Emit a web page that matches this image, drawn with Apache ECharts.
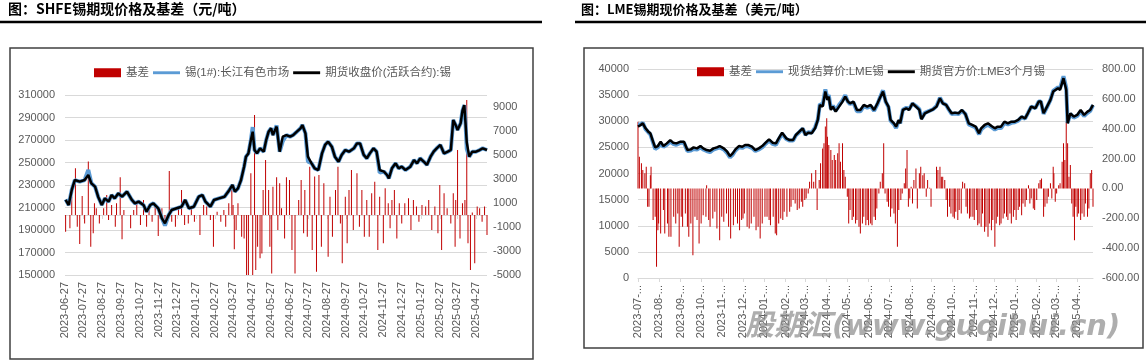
<!DOCTYPE html>
<html><head><meta charset="utf-8">
<script src="https://cdn.jsdelivr.net/npm/echarts@6/dist/echarts.min.js"></script>
<style>html,body{margin:0;padding:0;background:#fff}#c{width:1146px;height:364px}</style>
</head><body><div id="c"></div><script>
// ---------------- SHFE (left chart) ----------------
const shfeLineDates = ['2023-06-28','2023-07-03','2023-07-08','2023-07-13','2023-07-21','2023-07-29','2023-08-04','2023-08-09','2023-08-15','2023-08-20',
'2023-08-26','2023-08-31','2023-09-06','2023-09-11','2023-09-16','2023-09-22','2023-09-28','2023-10-06','2023-10-14','2023-10-19',
'2023-10-25','2023-11-02','2023-11-07','2023-11-13','2023-11-18','2023-11-26','2023-12-02','2023-12-07','2023-12-13','2023-12-18',
'2023-12-26','2024-01-03','2024-01-09','2024-01-15','2024-01-23','2024-01-31','2024-02-06','2024-02-11','2024-02-19','2024-02-25',
'2024-03-04','2024-03-13','2024-03-21','2024-03-26','2024-03-30','2024-04-04','2024-04-09','2024-04-14','2024-04-17','2024-04-21',
'2024-04-25','2024-04-28','2024-05-01','2024-05-05','2024-05-10','2024-05-16','2024-05-20','2024-05-24','2024-05-28','2024-05-31',
'2024-06-06','2024-06-11','2024-06-16','2024-06-22','2024-06-28','2024-07-03','2024-07-09','2024-07-15','2024-07-18','2024-07-23',
'2024-07-27','2024-08-02','2024-08-07','2024-08-13','2024-08-19','2024-08-24','2024-08-29','2024-09-04','2024-09-09','2024-09-15',
'2024-09-20','2024-09-26','2024-10-02','2024-10-10','2024-10-15','2024-10-20','2024-10-26','2024-10-31','2024-11-05','2024-11-11',
'2024-11-16','2024-11-21','2024-11-28','2024-12-03','2024-12-06','2024-12-11','2024-12-17','2024-12-22','2024-12-27','2025-01-02',
'2025-01-10','2025-01-16','2025-01-21','2025-01-26','2025-02-01','2025-02-06','2025-02-12','2025-02-17','2025-02-22','2025-02-28',
'2025-03-06','2025-03-12','2025-03-17','2025-03-21','2025-03-26','2025-03-28','2025-04-02','2025-04-05','2025-04-08','2025-04-10',
'2025-04-12','2025-04-16','2025-04-21','2025-04-27','2025-05-03','2025-05-08','2025-05-15'];
const shfeFutures = [216700,212200,225600,234400,233000,234400,238900,231500,228500,219600,
212200,218100,215200,221100,218100,222600,219600,224100,216700,213700,
215200,212200,206300,212200,213700,209300,200400,195900,203300,207800,
209300,210700,216700,209300,210700,219600,221100,215200,210700,216700,
218100,219600,225600,230000,224100,227000,234400,246300,255200,258100,
270000,277400,261100,258100,262600,259600,270000,277400,280400,274400,
281900,259600,273000,274400,273000,274400,277400,280400,283300,275900,
255200,249300,244800,243300,258100,265600,268500,264100,255200,250700,
256700,261100,259600,262600,267000,267000,256700,253700,258100,262600,
259600,243300,241900,238900,235900,244800,249300,244800,246300,243300,
246300,252200,249300,253700,250700,247800,255200,259600,262600,265600,
258100,259600,261100,287800,281900,278900,284800,296000,301000,285000,
268000,255200,259600,259600,261100,262600,261100];
const shfeSpot = [217200,212200,225600,234400,233000,234400,243300,231500,228500,219600,
212200,218100,215200,221100,218100,222600,219600,224100,216700,213700,
215200,212200,206300,212200,213700,209300,200400,194000,203300,207800,
209300,210700,216700,209300,210700,219600,221100,215200,210700,216700,
218100,219600,225600,230000,224100,227000,234400,246300,255200,258100,
270000,281500,261100,258100,262600,259600,270000,277400,280400,274400,
283000,259600,269000,274400,273000,274400,277400,280400,283300,275900,
251000,249300,244800,243300,258100,265600,268500,264100,255200,250700,
256700,261100,259600,262600,267000,267000,256700,253700,258100,262600,
259600,241000,241900,238900,235900,244800,249300,244800,246300,243300,
246300,252200,249300,253700,250700,247800,255200,259600,262600,265600,
258100,259600,261100,287800,281900,278900,284800,296000,301000,285000,
262000,255200,259600,259600,261100,262600,261100];
const shfeBasisDates = ['2023-06-28','2023-07-05','2023-07-08','2023-07-14','2023-07-17','2023-07-21','2023-07-25','2023-07-29','2023-08-04','2023-08-08',
'2023-08-12','2023-08-14','2023-08-17','2023-08-22','2023-08-29','2023-09-03','2023-09-06','2023-09-11','2023-09-17','2023-09-19',
'2023-09-25','2023-09-28','2023-10-01','2023-10-12','2023-10-17','2023-10-22','2023-10-28','2023-11-02','2023-11-07','2023-11-11',
'2023-11-16','2023-11-21','2023-11-26','2023-12-02','2023-12-07','2023-12-14','2023-12-18','2023-12-24','2023-12-29','2024-01-03',
'2024-01-08','2024-01-14','2024-01-19','2024-01-24','2024-02-02','2024-02-08','2024-02-13','2024-02-19','2024-02-24','2024-03-01',
'2024-03-07','2024-03-12','2024-03-15','2024-03-20','2024-03-25','2024-03-27','2024-03-29','2024-04-01','2024-04-04','2024-04-10',
'2024-04-14','2024-04-18','2024-04-21','2024-04-25','2024-04-28','2024-05-01','2024-05-03','2024-05-06','2024-05-10','2024-05-13',
'2024-05-15','2024-05-19','2024-05-24','2024-05-26','2024-05-29','2024-05-31','2024-06-06','2024-06-08','2024-06-11','2024-06-14',
'2024-06-19','2024-06-22','2024-06-27','2024-07-01','2024-07-06','2024-07-12','2024-07-16','2024-07-20','2024-07-22','2024-07-26',
'2024-07-30','2024-08-03','2024-08-07','2024-08-10','2024-08-14','2024-08-18','2024-08-22','2024-08-29','2024-09-01','2024-09-05',
'2024-09-10','2024-09-14','2024-09-18','2024-09-21','2024-09-26','2024-09-29','2024-10-02','2024-10-06','2024-10-09','2024-10-15',
'2024-10-19','2024-10-23','2024-10-27','2024-10-31','2024-11-04','2024-11-08','2024-11-13','2024-11-18','2024-11-21','2024-11-27',
'2024-11-30','2024-12-05','2024-12-08','2024-12-11','2024-12-15','2024-12-19','2024-12-23','2024-12-27','2025-01-01','2025-01-07',
'2025-01-11','2025-01-15','2025-01-20','2025-01-24','2025-01-29','2025-02-04','2025-02-09','2025-02-14','2025-02-19','2025-02-24',
'2025-02-27','2025-03-02','2025-03-06','2025-03-11','2025-03-17','2025-03-21','2025-03-24','2025-03-25','2025-03-28','2025-04-01',
'2025-04-05','2025-04-09','2025-04-12','2025-04-14','2025-04-18','2025-04-21','2025-04-25','2025-04-29','2025-05-03','2025-05-07',
'2025-05-11','2025-05-15'];
const shfeBasis = [-1390,-1110,1530,3890,-970,-2420,1590,-700,4450,-2640,
-1530,970,560,-700,560,1670,-420,830,-970,970,
3140,-2030,420,-1110,420,970,-830,1250,-970,700,
-560,830,-1750,560,-700,3670,-560,-970,560,2090,
-830,-700,700,-560,-1670,830,700,-420,-2640,280,
-560,420,-970,970,2360,830,-2860,-1250,970,-1810,
-1950,-5600,-5800,3480,-5400,8340,-4590,-2640,-3610,-3200,
2090,4590,2090,-2640,-4870,2360,3140,-1250,2640,560,
-1950,3140,2920,-2920,-4870,1250,2920,-1530,2090,-1810,
4030,-2920,3200,-4730,3340,-2640,2640,-3480,1530,-1810,
2090,4030,-700,-4030,1530,-2360,2090,3750,-1250,3480,
-970,2090,-1810,1250,-1810,1810,2780,-2920,1530,-2360,
2220,970,-1110,1250,2090,-1950,970,-700,970,1390,
-1250,1250,700,-560,830,700,1250,-1250,700,-1530,
2500,-2920,1810,560,-700,1810,-2640,1250,5420,-1950,
970,1250,9590,-2360,-4590,200,-4030,700,560,-560,
700,-1670];
const shfeLeftTicks = {min:150000, max:310000, step:20000};
const shfeRightTicks = {min:-5000, max:10000, step:2000};

// ---------------- LME (right chart) ----------------
const lmeLineDates = ['2023-07-21','2023-07-25','2023-07-28','2023-08-01','2023-08-05','2023-08-08','2023-08-12','2023-08-15','2023-08-19','2023-08-23',
'2023-08-27','2023-09-01','2023-09-06','2023-09-10','2023-09-15','2023-09-21','2023-09-26','2023-10-01','2023-10-06','2023-10-10',
'2023-10-15','2023-10-20','2023-10-24','2023-10-29','2023-11-03','2023-11-08','2023-11-13','2023-11-17','2023-11-23','2023-11-28',
'2023-12-02','2023-12-06','2023-12-10','2023-12-15','2023-12-20','2023-12-24','2023-12-29','2024-01-03','2024-01-08','2024-01-13',
'2024-01-18','2024-01-23','2024-01-28','2024-02-02','2024-02-07','2024-02-11','2024-02-16','2024-02-22','2024-02-27','2024-03-03',
'2024-03-07','2024-03-12','2024-03-17','2024-03-21','2024-03-25','2024-03-30','2024-04-04','2024-04-08','2024-04-11','2024-04-15',
'2024-04-19','2024-04-22','2024-04-24','2024-04-27','2024-04-30','2024-05-04','2024-05-09','2024-05-14','2024-05-18','2024-05-22',
'2024-05-25','2024-05-30','2024-06-04','2024-06-09','2024-06-14','2024-06-19','2024-06-24','2024-06-29','2024-07-04','2024-07-08',
'2024-07-12','2024-07-16','2024-07-20','2024-07-23','2024-07-28','2024-07-31','2024-08-04','2024-08-06','2024-08-10','2024-08-15',
'2024-08-19','2024-08-24','2024-08-29','2024-09-03','2024-09-06','2024-09-11','2024-09-16','2024-09-23','2024-09-28','2024-10-03',
'2024-10-07','2024-10-12','2024-10-16','2024-10-20','2024-10-25','2024-10-30','2024-11-04','2024-11-09','2024-11-14','2024-11-19',
'2024-11-24','2024-11-29','2024-12-02','2024-12-07','2024-12-12','2024-12-17','2024-12-22','2024-12-26','2024-12-31','2025-01-05',
'2025-01-10','2025-01-15','2025-01-20','2025-01-25','2025-01-30','2025-02-04','2025-02-08','2025-02-13','2025-02-19','2025-02-24',
'2025-02-27','2025-03-03','2025-03-08','2025-03-13','2025-03-17','2025-03-19','2025-03-24','2025-03-27','2025-04-01','2025-04-05',
'2025-04-07','2025-04-11','2025-04-16','2025-04-21','2025-04-26','2025-05-01','2025-05-06','2025-05-10','2025-05-14'];
const lmeFutures = [28965,29285,29604,28645,28006,27686,26088,25001,25256,26088,
25256,25768,26407,25896,25768,26088,26088,24489,24617,25001,
24809,25256,24809,24489,24361,24809,25001,25256,24809,24169,
23338,23850,24617,25256,25128,25448,25448,25128,24489,24809,
25256,25896,26535,25896,25768,26727,27814,26727,26407,26407,
27366,28006,28645,27366,27814,27686,28645,30244,33121,32801,
35679,34080,34719,32162,32801,31842,32801,33760,34719,33760,
33441,33760,32162,32162,33121,32801,33121,32162,33441,34592,
35679,33760,32801,30244,29604,28965,30244,29604,32162,32482,
32162,33441,32801,32162,30372,31522,31842,32290,32801,34400,
33441,33121,32290,31522,31650,31522,32162,31395,29604,29285,
28965,27686,28645,29285,29604,29093,28645,28965,28965,29924,
29604,29924,29924,30244,30883,30563,31522,32801,32482,33760,
33760,31522,32801,34080,35679,35359,36318,35998,38236,35998,
29604,31522,30883,31203,32162,31203,31842,32162,33121];
const lmeSpot = [29400,29400,29700,28500,27900,27500,25900,24700,25000,25800,
25100,25500,26100,25700,25500,25900,25900,24300,24400,24700,
24600,25000,24600,24300,24100,24600,24800,25000,24600,23900,
23100,23600,24400,25000,24900,25200,25200,24900,24300,24600,
25000,25700,26300,25700,25500,26500,27600,26600,26300,26300,
27300,27900,28600,27400,27900,27800,28800,30300,33300,33000,
36100,34400,35000,32400,33000,32000,33100,34000,35000,33700,
33300,33600,31900,31900,32900,32600,32900,32000,33300,34700,
35900,33700,32700,30100,29400,28700,30100,29600,32200,32600,
32300,33400,32900,32300,30500,31600,31900,32300,32900,34500,
33500,33100,32200,31400,31500,31400,32000,31400,29400,29100,
28800,27500,28400,29000,29300,28900,28400,28700,28700,29700,
29400,29700,29800,30100,30800,30500,31500,32800,32500,33800,
33800,31400,32700,34100,35800,35500,36500,36300,38600,36400,
29700,31400,30700,31000,31900,31000,31600,32000,33100];
const lmeBasisDates = ['2023-07-21','2023-07-23','2023-07-26','2023-07-28','2023-07-31','2023-08-02','2023-08-04','2023-08-06','2023-08-08','2023-08-09',
'2023-08-12','2023-08-15','2023-08-17','2023-08-19','2023-08-20','2023-08-23','2023-08-27','2023-08-29','2023-09-02','2023-09-04',
'2023-09-07','2023-09-11','2023-09-14','2023-09-17','2023-09-19','2023-09-22','2023-09-24','2023-09-28','2023-10-01','2023-10-03',
'2023-10-06','2023-10-09','2023-10-12','2023-10-15','2023-10-18','2023-10-21','2023-10-24','2023-10-28','2023-10-29','2023-11-01',
'2023-11-03','2023-11-07','2023-11-10','2023-11-13','2023-11-17','2023-11-20','2023-11-23','2023-11-27','2023-11-30','2023-12-03',
'2023-12-07','2023-12-10','2023-12-13','2023-12-16','2023-12-19','2023-12-21','2023-12-23','2023-12-27','2023-12-30','2024-01-02',
'2024-01-06','2024-01-09','2024-01-12','2024-01-15','2024-01-18','2024-01-22','2024-01-25','2024-01-28','2024-01-30','2024-02-03',
'2024-02-06','2024-02-08','2024-02-11','2024-02-14','2024-02-17','2024-02-19','2024-02-23','2024-02-27','2024-02-29','2024-03-03',
'2024-03-06','2024-03-09','2024-03-12','2024-03-15','2024-03-17','2024-03-20','2024-03-22','2024-03-25','2024-03-27','2024-03-30',
'2024-04-02','2024-04-05','2024-04-07','2024-04-10','2024-04-12','2024-04-15','2024-04-17','2024-04-19','2024-04-21','2024-04-22',
'2024-04-24','2024-04-27','2024-04-29','2024-05-02','2024-05-04','2024-05-07','2024-05-09','2024-05-11','2024-05-14','2024-05-16',
'2024-05-18','2024-05-21','2024-05-23','2024-05-25','2024-05-28','2024-05-30','2024-06-02','2024-06-04','2024-06-07','2024-06-09',
'2024-06-12','2024-06-14','2024-06-17','2024-06-19','2024-06-21','2024-06-24','2024-06-26','2024-06-29','2024-07-01','2024-07-03',
'2024-07-06','2024-07-08','2024-07-11','2024-07-13','2024-07-15','2024-07-18','2024-07-20','2024-07-23','2024-07-25','2024-07-28',
'2024-07-30','2024-08-02','2024-08-04','2024-08-07','2024-08-09','2024-08-12','2024-08-14','2024-08-16','2024-08-18','2024-08-20',
'2024-08-22','2024-08-24','2024-08-26','2024-08-29','2024-08-31','2024-09-03','2024-09-05','2024-09-08','2024-09-10','2024-09-13',
'2024-09-15','2024-09-18','2024-09-20','2024-09-28','2024-09-30','2024-10-03','2024-10-05','2024-10-07','2024-10-10','2024-10-12',
'2024-10-14','2024-10-17','2024-10-19','2024-10-22','2024-10-24','2024-10-26','2024-10-29','2024-10-31','2024-11-03','2024-11-05',
'2024-11-08','2024-11-10','2024-11-12','2024-11-15','2024-11-17','2024-11-20','2024-11-22','2024-11-25','2024-11-27','2024-11-29',
'2024-12-02','2024-12-04','2024-12-07','2024-12-09','2024-12-12','2024-12-14','2024-12-17','2024-12-19','2024-12-22','2024-12-24',
'2024-12-26','2024-12-29','2024-12-31','2025-01-03','2025-01-05','2025-01-08','2025-01-10','2025-01-13','2025-01-15','2025-01-18',
'2025-01-20','2025-01-22','2025-01-25','2025-01-27','2025-01-30','2025-02-01','2025-02-04','2025-02-06','2025-02-09','2025-02-11',
'2025-02-13','2025-02-16','2025-02-18','2025-02-21','2025-02-24','2025-02-26','2025-02-28','2025-03-03','2025-03-05','2025-03-08',
'2025-03-10','2025-03-13','2025-03-15','2025-03-17','2025-03-18','2025-03-20','2025-03-22','2025-03-25','2025-03-27','2025-03-30',
'2025-04-01','2025-04-03','2025-04-05','2025-04-07','2025-04-09','2025-04-11','2025-04-13','2025-04-15','2025-04-17','2025-04-19',
'2025-04-21','2025-04-23','2025-04-26','2025-04-28','2025-05-01','2025-05-03','2025-05-06','2025-05-08','2025-05-10','2025-05-12',
'2025-05-14'];
const lmeBasis = [447,212,168,123,101,145,-123,-123,89,145,
-212,-190,-525,-280,-235,-302,-145,-302,-235,-324,
-324,-190,-235,-168,-391,-190,-257,-168,-257,-324,
-235,-447,-190,-212,-369,-235,-179,-190,22,-212,
-257,-201,-157,-268,-347,-190,-224,-168,-257,-335,
-246,-190,-235,-280,-212,-201,-168,-257,-268,-235,
-190,-280,-257,-335,-235,-190,-190,-212,-246,-190,
-302,-313,-235,-201,-212,-157,-190,-157,-123,-78,
-101,-145,-134,-89,-123,-78,-67,-34,45,101,
45,123,-145,56,168,268,302,414,470,347,
291,257,190,224,190,235,302,179,302,123,
78,-56,-235,-145,-212,-190,-235,-212,-257,-302,
-235,-190,-246,-212,-246,-235,-246,-190,-212,-134,
-34,45,101,302,-34,-89,-123,-190,-134,-168,
-235,-391,-145,-78,-34,34,134,257,-123,-67,
11,-101,56,134,-134,101,145,89,101,-56,
56,5,-123,145,123,145,78,78,56,-78,
-190,-123,-168,-190,-201,-157,-212,-145,-168,45,
34,-123,-168,-201,-190,-190,-212,-145,-246,-235,
-257,-168,-291,-257,-324,-235,-280,-212,-391,-235,
-190,-246,-235,-201,-168,-190,-212,-168,-235,-190,
-145,-212,-145,-123,-179,-101,-123,-78,22,-101,
-67,-134,-145,-78,34,56,67,-190,-123,-101,
-56,34,-67,145,101,-89,-34,22,34,179,
302,190,447,302,78,157,-101,-190,-347,-123,
-190,-168,-212,-168,-190,-101,-190,-134,101,123,
-123];
const lmeLeftTicks = {min:0, max:40000, step:5000};
const lmeRightTicks = {min:-600, max:800, step:200};

// ---------------- helpers ----------------
function dayRange(a, b) {
  const p = s => Date.UTC(+s.slice(0,4), +s.slice(5,7)-1, +s.slice(8,10));
  const out = [];
  for (let t = p(a); t <= p(b); t += 86400000) out.push(new Date(t).toISOString().slice(0,10));
  return out;
}
const shfeAxisDays = dayRange('2023-06-27','2025-05-15');
const lmeAxisDays = dayRange('2023-07-21','2025-05-14');
const pairs = (d, v) => d.map((x, i) => [x, v[i]]);

const FONT = "'Liberation Sans','Noto Sans CJK SC',sans-serif";
const LABEL = '#595959', GRID = '#D9D9D9', RED = '#C00000', BLUE = '#5B9BD5', BLACK = '#000000';
const lineIcon = 'path://M0,0H28V3H0Z';

const chart = echarts.init(document.getElementById('c'), null, {renderer: 'canvas'});
const isShfeTick = (i, v) => v.slice(8) === '27';
const isLmeTick = (i, v) => v.slice(8) === '21';

function yAx(grid, t, pos, fmt, showGrid, margin, showMax) {
  return {
    type: 'value', gridIndex: grid, position: pos, min: t.min, max: t.max, interval: t.step,
    axisLine: {show: false}, axisTick: {show: false},
    axisLabel: {color: LABEL, fontSize: 11, fontFamily: FONT, margin: margin, formatter: fmt, showMaxLabel: showMax},
    splitLine: {show: showGrid, lineStyle: {color: GRID, width: 1}}
  };
}

const option = {
  animation: false,
  backgroundColor: '#fff',
  textStyle: {fontFamily: FONT},
  grid: [
    {left: 65, top: 95, width: 422, height: 180},
    {left: 638, top: 69, width: 455, height: 209}
  ],
  legend: [
    {left: 89, top: 62, itemWidth: 27, itemHeight: 9, itemGap: 4, selectedMode: false,
     textStyle: {color: LABEL, fontSize: 11.5, fontFamily: FONT},
     data: [{name: '基差', icon: 'rect'}, {name: '锡(1#):长江有色市场', icon: lineIcon}, {name: '期货收盘价(活跃合约):锡', icon: lineIcon}]},
    {left: 692, top: 61, itemWidth: 27, itemHeight: 9, itemGap: 4, selectedMode: false,
     textStyle: {color: LABEL, fontSize: 11.5, fontFamily: FONT},
     data: [{name: '基差', icon: 'rect'}, {name: '现货结算价:LME锡', icon: lineIcon}, {name: '期货官方价:LME3个月锡', icon: lineIcon}]}
  ],
  xAxis: [
    {type: 'category', gridIndex: 0, data: shfeAxisDays, boundaryGap: false,
     axisLine: {lineStyle: {color: GRID}},
     axisTick: {show: true, interval: isShfeTick, length: 4, lineStyle: {color: GRID}},
     axisLabel: {interval: isShfeTick, rotate: 90, color: LABEL, fontSize: 11, fontFamily: FONT, margin: 7},
     splitLine: {show: false}},
    {type: 'category', gridIndex: 1, data: lmeAxisDays, boundaryGap: false,
     axisLine: {lineStyle: {color: GRID}},
     axisTick: {show: true, interval: isLmeTick, length: 4, lineStyle: {color: GRID}},
     axisLabel: {interval: isLmeTick, rotate: 90, color: LABEL, fontSize: 11, fontFamily: FONT, margin: 7,
                 formatter: v => v.slice(0, 7) + '-...'},
     splitLine: {show: false}}
  ],
  yAxis: [
    yAx(0, shfeLeftTicks, 'left', v => String(v), true, 10, true),
    yAx(0, shfeRightTicks, 'right', v => String(v), false, 6, false),
    yAx(1, lmeLeftTicks, 'left', v => String(v), true, 9, true),
    yAx(1, lmeRightTicks, 'right', v => v.toFixed(2), false, 9, true)
  ],
  series: [
    {name: '基差', type: 'bar', xAxisIndex: 0, yAxisIndex: 1, barWidth: 1, itemStyle: {color: RED}, data: pairs(shfeBasisDates, shfeBasis)},
    {name: '锡(1#):长江有色市场', type: 'line', xAxisIndex: 0, yAxisIndex: 0, showSymbol: false, symbol: 'none',
     lineStyle: {color: BLUE, width: 4}, itemStyle: {color: BLUE}, data: pairs(shfeLineDates, shfeSpot)},
    {name: '期货收盘价(活跃合约):锡', type: 'line', xAxisIndex: 0, yAxisIndex: 0, showSymbol: false, symbol: 'none',
     lineStyle: {color: BLACK, width: 2.5}, itemStyle: {color: BLACK}, data: pairs(shfeLineDates, shfeFutures)},
    {name: '基差', type: 'bar', xAxisIndex: 1, yAxisIndex: 3, barWidth: 1, itemStyle: {color: RED}, data: pairs(lmeBasisDates, lmeBasis)},
    {name: '现货结算价:LME锡', type: 'line', xAxisIndex: 1, yAxisIndex: 2, showSymbol: false, symbol: 'none',
     lineStyle: {color: BLUE, width: 4}, itemStyle: {color: BLUE}, data: pairs(lmeLineDates, lmeSpot)},
    {name: '期货官方价:LME3个月锡', type: 'line', xAxisIndex: 1, yAxisIndex: 2, showSymbol: false, symbol: 'none',
     lineStyle: {color: BLACK, width: 2.5}, itemStyle: {color: BLACK}, data: pairs(lmeLineDates, lmeFutures)}
  ],
  graphic: [
    {type: 'text', left: 8, top: 2, style: {text: '图：SHFE锡期现价格及基差（元/吨）', font: "bold 14px 'Noto Sans CJK SC'", fill: '#000'}},
    {type: 'line', shape: {x1: 0, y1: 22, x2: 542, y2: 22}, style: {stroke: '#000', lineWidth: 2.5}},
    {type: 'text', left: 581, top: 3, style: {text: '图：LME锡期现价格及基差（美元/吨）', font: "bold 13px 'Noto Sans CJK SC'", fill: '#000'}},
    {type: 'line', shape: {x1: 575, y1: 22, x2: 1146, y2: 22}, style: {stroke: '#000', lineWidth: 2.5}},
    {type: 'rect', shape: {x: 10, y: 48, width: 523, height: 311}, style: {fill: 'none', stroke: '#404040', lineWidth: 1.5}},
    {type: 'rect', shape: {x: 584, y: 48, width: 559, height: 300}, style: {fill: 'none', stroke: '#404040', lineWidth: 1.5}},
    {type: 'text', left: 745, top: 313, z: 100,
     style: {text: '股期汇(www.guqihui.cn)', font: "italic bold 29px 'DejaVu Sans','Noto Sans CJK SC'", fill: 'rgba(140,140,140,0.7)'}}
  ]
};
chart.setOption(option);
</script></body></html>
